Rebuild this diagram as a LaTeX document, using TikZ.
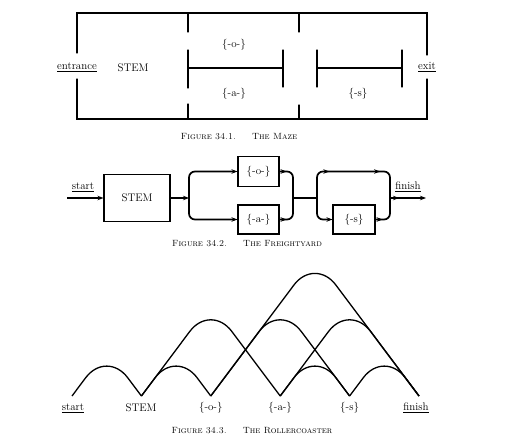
\documentclass[tikz,border=0pt]{standalone}
\usetikzlibrary{arrows.meta,decorations.markings,calc}
\tikzset{
  wall/.style={line width=1.3pt, line cap=round},
  rail/.style={line width=1.7pt},
  tip/.style={-{Stealth[length=6pt,width=4.5pt]}},
  boxnode/.style={draw, line width=1.1pt, inner sep=0pt, font=\fontsize{11}{13}\selectfont},
  lbl/.style={font=\fontsize{11}{13}\selectfont, inner sep=0pt},
  captext/.style={font=\fontsize{9}{11}\selectfont, inner sep=0pt},
  coaster/.style={line width=1.3pt, rounded corners=35pt},
  midarrow/.style={postaction={decorate}, decoration={markings, mark=at position #1 with {\arrow{Stealth[length=6pt,width=4.5pt]}}}},
  twoarrows/.style 2 args={postaction={decorate}, decoration={markings,
     mark=at position #1 with {\arrow{Stealth[length=6pt,width=4.5pt]}},
     mark=at position #2 with {\arrow{Stealth[length=6pt,width=4.5pt]}}}}
}
\newcommand\brc[1]{$\big\{$#1$\big\}$}
\begin{document}
\begin{tikzpicture}[x=1pt,y=-1pt]
\useasboundingbox (0,0) rectangle (506,441);
% ---------- Figure 34.1 : The Maze ----------
\draw[wall] (77,53) -- (77,13) -- (427,13) -- (427,55);
\draw[wall] (77,79) -- (77,119) -- (427,119) -- (427,79);
\draw[wall] (188,13) -- (188,32);
\draw[wall] (188,50) -- (188,88);
\draw[wall] (188,104) -- (188,119);
\draw[wall] (188,68) -- (283,68);
\draw[wall] (283,50) -- (283,87);
\draw[wall] (299,13) -- (299,32);
\draw[wall] (299,105) -- (299,119);
\draw[wall] (317,50) -- (317,87);
\draw[wall] (317,68) -- (402,68);
\draw[wall] (402,50) -- (402,87);
\node[lbl] (entr) at (77,67) {\underline{entrance}};
\node[lbl] (stem1) at (133,68) {STEM};
\node[lbl] (o1) at (234,45) {\brc{-o-}};
\node[lbl] (a1) at (234,94) {\brc{-a-}};
\node[lbl] (s1) at (358,94) {\brc{-s}};
\node[lbl] (exit1) at (427,67) {\underline{exit}};
\node[captext] (cap1) at (239,137) {\textsc{Figure 34.1.}\hspace{1.8em}\textsc{The Maze}};
% ---------- Figure 34.2 : The Freightyard ----------
\node[boxnode, minimum width=66pt, minimum height=47pt] (stem2) at (137,198) {STEM};
\node[boxnode, minimum width=41pt, minimum height=30pt] (o2) at (258.5,171.5) {\brc{-o-}};
\node[boxnode, minimum width=41pt, minimum height=29pt] (a2) at (258.5,219.5) {\brc{-a-}};
\node[boxnode, minimum width=42pt, minimum height=29pt] (s2) at (354,219.5) {\brc{-s}};
\coordinate (in2) at (67,198);
\coordinate (sp1) at (189,198);
\coordinate (m1) at (293,198);
\coordinate (sp2) at (317,198);
\coordinate (tl) at (317,171.5);
\coordinate (tr) at (390,171.5);
\coordinate (m2) at (390,198);
\coordinate (out2) at (426,198);
\node[lbl, anchor=south] (start2) at (83,192) {\underline{start}};
\node[lbl, anchor=south] (fin2) at (408,192) {\underline{finish}};
\draw[rail, tip] (in2) -- (stem2.west);
\draw[rail, tip] (stem2.east) -- (sp1);
\draw[rail, tip, rounded corners=6pt] (sp1) |- (o2.west);
\draw[rail, tip, rounded corners=6pt] (sp1) |- (a2.west);
\draw[rail, rounded corners=6pt, midarrow=7pt] (o2.east) -| (m1);
\draw[rail, rounded corners=6pt, midarrow=7pt] (a2.east) -| (m1);
\draw[rail] (m1) -- (sp2);
\draw[rail, rounded corners=6pt, twoarrows={0.3}{0.72}] (sp2) -- (tl) -- (tr) -- (m2);
\draw[rail, tip, rounded corners=6pt] (sp2) |- (s2.west);
\draw[rail, rounded corners=6pt, midarrow=7pt] (s2.east) -| (m2);
\draw[rail, tip, midarrow=9pt] (m2) -- (out2);
\node[captext] (cap2) at (247,244) {\textsc{Figure 34.2.}\hspace{1.8em}\textsc{The Freightyard}};
% ---------- Figure 34.3 : The Rollercoaster ----------
\coordinate (v0) at (72,396);
\coordinate (v1) at (141.4,396);
\coordinate (v2) at (210.8,396);
\coordinate (v3) at (280.2,396);
\coordinate (v4) at (349.6,396);
\coordinate (v5) at (419,396);
\draw[coaster] (v0) -- (106.7,349.7) -- (v1);
\draw[coaster] (v1) -- (176.1,349.7) -- (v2);
\draw[coaster] (v1) -- (210.8,303.4) -- (v3);
\draw[coaster] (v2) -- (280.2,303.4) -- (v4);
\draw[coaster] (v2) -- (314.9,257) -- (v5);
\draw[coaster] (v3) -- (314.9,349.7) -- (v4);
\draw[coaster] (v3) -- (349.6,303.4) -- (v5);
\draw[coaster] (v4) -- (384.3,349.7) -- (v5);
\node[lbl] (start3) at (73,408) {\underline{start}};
\node[lbl] (stem3) at (141,408) {STEM};
\node[lbl] (o3) at (210.8,408) {\brc{-o-}};
\node[lbl] (a3) at (280.2,408) {\brc{-a-}};
\node[lbl] (s3) at (349.6,408) {\brc{-s}};
\node[lbl] (fin3) at (416,408) {\underline{finish}};
\node[captext] (cap3) at (252,431) {\textsc{Figure 34.3.}\hspace{1.8em}\textsc{The Rollercoaster}};
\end{tikzpicture}
\end{document}
